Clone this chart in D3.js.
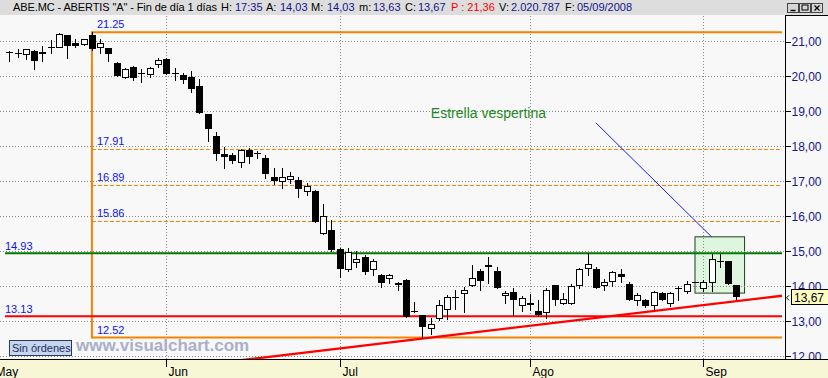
<!DOCTYPE html>
<meta charset="utf-8">
<style>
body{margin:0;background:#f8f8f8;}
svg{display:block;font-family:Arial,"Liberation Sans",sans-serif;}
.grid line{stroke:#8a8a8a;stroke-dasharray:1,2;shape-rendering:crispEdges;}
.wick{stroke:#000;shape-rendering:crispEdges;}
.yaxis text{fill:#16168c;font-size:12px;}
.yaxis line{stroke:#000;shape-rendering:crispEdges;}
.lvl{fill:#0a14ff;font-size:11px;}
</style>
<body>
<div id="chart"></div>
<script src="https://cdn.jsdelivr.net/npm/d3@7"></script>
<script>

// trading days shown (6 May - 5 Sep 2008)
var dates = [
"2008-05-06","2008-05-07","2008-05-08","2008-05-09","2008-05-12","2008-05-13","2008-05-14","2008-05-15","2008-05-16","2008-05-19",
"2008-05-20","2008-05-21","2008-05-22","2008-05-23","2008-05-26","2008-05-27","2008-05-28","2008-05-29","2008-05-30",
"2008-06-02","2008-06-03","2008-06-04","2008-06-05","2008-06-06","2008-06-09","2008-06-10","2008-06-11","2008-06-12","2008-06-13",
"2008-06-16","2008-06-17","2008-06-18","2008-06-19","2008-06-20","2008-06-23","2008-06-24","2008-06-25","2008-06-26","2008-06-27","2008-06-30",
"2008-07-01","2008-07-02","2008-07-03","2008-07-04","2008-07-07","2008-07-08","2008-07-09","2008-07-10","2008-07-11",
"2008-07-14","2008-07-15","2008-07-16","2008-07-17","2008-07-18","2008-07-21","2008-07-22","2008-07-23","2008-07-24","2008-07-25",
"2008-07-28","2008-07-29","2008-07-30","2008-07-31",
"2008-08-01","2008-08-04","2008-08-05","2008-08-06","2008-08-07","2008-08-08","2008-08-11","2008-08-12","2008-08-13","2008-08-14","2008-08-15",
"2008-08-18","2008-08-19","2008-08-20","2008-08-21","2008-08-22","2008-08-25","2008-08-26","2008-08-27","2008-08-28","2008-08-29",
"2008-09-01","2008-09-02","2008-09-03","2008-09-04","2008-09-05"];

var open  = [20.69,20.65,20.62,20.71,20.69,20.82,20.82,21.16,20.93,20.91, 21.16,20.84,20.79,20.38,19.98,20.25,20.08,20.05,20.33,
             20.48,20.09,20.03,19.97,19.71,18.91,18.29,17.77,17.74,17.53, 17.89,17.79,17.66,17.11,17.01,17.04,17.03,16.72,16.71,15.52,15.60,
             15.06,14.48,14.69,14.83,14.49,14.31,14.22,14.09,14.17, 13.27,13.17,12.78,13.07,13.33,13.67,13.79,14.01,14.43,14.60, 14.43,13.73,13.82,13.44,
             13.51,13.29,13.25,14.03,13.51,13.51,14.03,14.51,14.48,14.02,14.14, 14.34,14.06,13.60,13.60,13.45,13.79,13.51,13.93,13.86,14.10,
             13.93,14.10,14.71,14.71,14.03];
var high  = [20.70,20.76,20.76,20.73,20.86,21.03,21.22,21.16,21.05,21.07, 21.25,21.05,20.79,20.40,20.22,20.29,20.19,20.27,20.51,
             20.51,20.24,20.08,20.14,19.91,18.91,18.41,17.98,17.80,17.92, 17.93,17.84,17.74,17.38,17.38,17.24,17.11,16.93,16.74,16.34,15.89,
             15.08,15.09,15.00,14.89,14.77,14.34,14.34,14.12,14.20, 13.54,13.17,13.09,13.59,13.74,13.89,13.97,14.60,14.48,14.82, 14.53,13.86,13.95,13.71,
             13.76,13.60,13.95,14.03,13.79,14.05,14.52,14.93,14.55,14.19,14.43, 14.48,14.10,13.79,13.63,13.86,13.81,13.81,13.98,14.14,14.10,
             14.17,14.91,14.91,14.71,14.03];
var low   = [20.44,20.55,20.48,20.19,20.44,20.67,20.82,20.52,20.84,20.88, 20.75,20.65,20.43,20.01,19.95,19.89,19.84,19.98,20.25,
             20.07,19.89,19.81,19.55,18.93,18.15,17.60,17.36,17.52,17.41, 17.52,17.65,17.09,16.91,16.81,16.93,16.55,16.60,15.81,15.49,14.98,
             14.24,14.41,14.55,14.34,14.31,13.97,14.09,13.89,13.12, 13.26,12.52,12.63,13.03,13.06,13.34,13.24,14.00,13.87,14.08, 13.95,13.52,13.17,13.27,
             13.31,13.14,13.09,13.44,13.48,13.47,13.93,14.31,13.95,13.89,14.00, 14.11,13.58,13.46,13.38,13.33,13.58,13.41,13.60,13.79,14.10,
             13.84,13.84,14.55,14.05,13.63];
var close = [20.69,20.65,20.76,20.44,20.63,20.82,21.20,20.85,20.87,21.07, 20.76,20.93,20.63,20.01,20.19,19.95,20.08,20.22,20.45,
             20.07,20.09,19.89,19.63,18.95,18.48,17.76,17.67,17.58,17.89, 17.68,17.79,17.21,17.01,17.10,17.14,16.78,16.86,15.81,16.00,15.03,
             14.49,14.96,14.77,14.38,14.71,14.07,14.31,14.01,13.12, 13.27,12.81,12.90,13.45,13.68,13.67,13.88,14.22,14.15,14.53, 13.95,13.80,13.60,13.65,
             13.45,13.17,13.89,13.60,13.62,14.00,14.48,14.62,13.95,14.11,14.39, 14.25,13.58,13.73,13.41,13.81,13.60,13.79,13.93,14.05,14.10,
             14.10,14.76,14.67,14.05,13.67];

var priceTicks = [12,13,14,15,16,17,18,19,20,21];
var monthTicks = ["2008-05-02","2008-06-02","2008-07-01","2008-08-01","2008-09-01"];
var monthLabels = ["May","Jun","Jul","Ago","Sep"];

// drawn studies
var fibHigh = ["2008-05-20", 21.25];
var fibLow = 12.52;
var fibLevels = [17.91, 16.89, 15.86];
var resistance = 14.93;
var support = 13.13;
var trendPts = [["2008-07-15", 12.49], ["2008-09-05", 13.56]];
var noteText = "Estrella vespertina";
var noteAt = ["2008-07-25", 18.80];
var noteLine = [["2008-08-13", 18.66], ["2008-09-02", 15.40]];
var boxDates = ["2008-08-29", "2008-09-05"];
var boxPrices = [15.40, 13.79];

var headerTitle = 'ABE.MC - ABERTIS "A" - Fin de día 1 días';
var headerFields = [["H:", "17:35", 221, 235], ["A:", null, 266, 280], ["M:", null, 311, 327], ["m:", null, 359, 373],
                    ["C:", null, 405, 418], ["V:", "2.020.787", 499, 511], ["F:", "05/09/2008", 565, 577]];
var prevClose = "21,36";

var W = 828, H = 378, plotR = 785, plotTop = 16, plotBot = 359;
var n = dates.length;
var fmt = function(v){ return v.toFixed(2).replace(".", ","); };
headerFields[1][1] = fmt(open[n-1]);
headerFields[2][1] = fmt(high[n-1]);
headerFields[3][1] = fmt(low[n-1]);
headerFields[4][1] = fmt(close[n-1]);

var x = d3.scalePoint().domain(dates).range([9.3, 736.3]);
var y = d3.scaleLinear().domain([12, 21]).range([355.7, 41]);
var parse = d3.timeParse("%Y-%m-%d");

// x for a date that may lie before the first shown bar
function xAt(d){
  if (x(d) !== undefined) return x(d);
  var k = d3.timeDay.range(parse(d), parse(dates[0])).filter(function(t){ return t.getDay() % 6 != 0; }).length;
  return x(dates[0]) - k * x.step();
}

var svg = d3.select("#chart").append("svg").attr("width", W).attr("height", H);

svg.append("rect").attr("width", W).attr("height", H).attr("fill", "#f8f8f8");
svg.append("defs").append("clipPath").attr("id", "plotclip")
  .append("rect").attr("x", 0).attr("y", plotTop).attr("width", plotR).attr("height", plotBot - plotTop);

var plot = svg.append("g").attr("clip-path", "url(#plotclip)");

// pattern box
plot.append("rect")
  .attr("x", x(boxDates[0])).attr("y", y(boxPrices[0]))
  .attr("width", x(boxDates[1]) + x.step() - x(boxDates[0]))
  .attr("height", y(boxPrices[1]) - y(boxPrices[0]))
  .attr("fill", "#def6de").attr("stroke", "#1f3f1f");

// grid
var grid = plot.append("g").attr("class", "grid");
grid.selectAll(".h").data(priceTicks).enter().append("line")
  .attr("x1", 0).attr("x2", plotR)
  .attr("y1", function(d){ return Math.round(y(d)) + 0.5; })
  .attr("y2", function(d){ return Math.round(y(d)) + 0.5; });
grid.selectAll(".v").data(monthTicks).enter().append("line")
  .attr("x1", function(d){ return Math.round(xAt(d)) + 0.5; })
  .attr("x2", function(d){ return Math.round(xAt(d)) + 0.5; })
  .attr("y1", plotTop).attr("y2", plotBot);

// fibonacci
var fx = x(fibHigh[0]);
var orange = "#f58300";
plot.append("line").attr("x1", fx).attr("x2", 782).attr("y1", y(fibHigh[1])).attr("y2", y(fibHigh[1]))
  .attr("stroke", orange).attr("stroke-width", 2);
plot.append("line").attr("x1", fx).attr("x2", 782).attr("y1", y(fibLow)).attr("y2", y(fibLow))
  .attr("stroke", orange).attr("stroke-width", 2);
plot.append("line").attr("x1", fx).attr("x2", fx).attr("y1", y(fibHigh[1]) - 1).attr("y2", y(fibLow) + 1)
  .attr("stroke", orange).attr("stroke-width", 2);
plot.selectAll(".fib").data(fibLevels).enter().append("line")
  .attr("x1", fx).attr("x2", 782)
  .attr("y1", function(d){ return Math.round(y(d)) + 0.5; })
  .attr("y2", function(d){ return Math.round(y(d)) + 0.5; })
  .attr("stroke", orange).attr("stroke-dasharray", "4,2");
plot.selectAll(".fibl").data([fibHigh[1], fibLow].concat(fibLevels)).enter().append("text")
  .attr("class", "lvl").attr("x", fx + 5).attr("y", function(d){ return y(d) - 4; })
  .text(function(d){ return d.toFixed(2); });

// support / resistance
plot.append("line").attr("x1", 5).attr("x2", 782).attr("y1", y(resistance)).attr("y2", y(resistance))
  .attr("stroke", "#007a00").attr("stroke-width", 2);
plot.append("line").attr("x1", 5).attr("x2", 782).attr("y1", y(support)).attr("y2", y(support))
  .attr("stroke", "#ff0000").attr("stroke-width", 2);
plot.selectAll(".srl").data([resistance, support]).enter().append("text")
  .attr("class", "lvl").attr("x", 5).attr("y", function(d){ return y(d) - 3.5; })
  .text(function(d){ return d.toFixed(2); });

// trend line
var tx1 = x(trendPts[0][0]), ty1 = y(trendPts[0][1]);
var tx2 = x(trendPts[1][0]), ty2 = y(trendPts[1][1]);
var slope = (ty2 - ty1) / (tx2 - tx1);
plot.append("line").attr("x1", 0).attr("y1", ty1 - tx1 * slope)
  .attr("x2", 782).attr("y2", ty1 + (782 - tx1) * slope)
  .attr("stroke", "#ff0000").attr("stroke-width", 2.4);

// note
plot.append("line")
  .attr("x1", x(noteLine[0][0])).attr("y1", y(noteLine[0][1]))
  .attr("x2", x(noteLine[1][0])).attr("y2", y(noteLine[1][1]))
  .attr("stroke", "#1a1aff").attr("stroke-width", 1);
plot.append("text").attr("x", x(noteAt[0])).attr("y", y(noteAt[1]))
  .attr("text-anchor", "middle").attr("fill", "#1f8a1f").style("font-size", "14px")
  .text(noteText);

// candles
var bars = plot.append("g").selectAll("g").data(d3.range(n)).enter().append("g");
bars.append("line").attr("class", "wick")
  .attr("x1", function(i){ return Math.round(x(dates[i])) + 0.5; })
  .attr("x2", function(i){ return Math.round(x(dates[i])) + 0.5; })
  .attr("y1", function(i){ return Math.round(y(high[i])); })
  .attr("y2", function(i){ return Math.round(y(low[i])) + 1; });
bars.append("rect")
  .attr("shape-rendering", "crispEdges")
  .each(function(i){
    var cx = Math.round(x(dates[i]));
    var t = Math.round(y(Math.max(open[i], close[i]))), b = Math.round(y(Math.min(open[i], close[i])));
    var r = d3.select(this);
    if (close[i] > open[i]) {
      r.attr("x", cx - 2.5).attr("width", 6).attr("y", t + 0.5).attr("height", Math.max(2, b - t))
       .attr("fill", "#fff").attr("stroke", "#000");
    } else {
      r.attr("x", cx - 3).attr("width", 7).attr("y", t).attr("height", Math.max(1, b - t))
       .attr("fill", "#000");
    }
  });

// watermark + orders box
svg.append("rect").attr("x", 9.5).attr("y", 340.5).attr("width", 62).attr("height", 15)
  .attr("fill", "#c6d6ee").attr("stroke", "#2a3a5a");
svg.append("text").attr("x", 12).attr("y", 352).attr("fill", "#1c2c5c").style("font-size", "11px").text("Sin órdenes");
svg.append("text").attr("x", 76).attr("y", 351).attr("fill", "#a9b0c9")
  .style("font-size", "17px").style("font-weight", "bold").text("www.visualchart.com");

// right price panel
svg.append("rect").attr("x", plotR + 0.5).attr("y", 15.5).attr("width", 50).attr("height", plotBot - 15)
  .attr("fill", "#f8f8f8").attr("stroke", "#000");
var yAxis = svg.append("g").attr("class", "yaxis").attr("transform", "translate(" + (plotR + 0.5) + ",0.5)")
  .call(d3.axisRight(y).tickValues(priceTicks).tickSize(5).tickPadding(1).tickFormat(fmt));
yAxis.select(".domain").remove();

// last price tag
var ly = y(close[n-1]);
svg.append("path").attr("d", "M789," + (ly - 2) + "L786.5," + (ly + 0.5) + "L789," + (ly + 3))
  .attr("fill", "none").attr("stroke", "#000");
svg.append("rect").attr("x", 791.5).attr("y", Math.round(ly) - 7.5).attr("width", 40).attr("height", 15)
  .attr("fill", "#ffffc2").attr("stroke", "#000");
svg.append("text").attr("x", 794).attr("y", ly + 4.5).attr("fill", "#000").style("font-size", "12px")
  .text(fmt(close[n-1]));

// date axis strip
svg.append("rect").attr("x", 0).attr("y", plotBot + 1).attr("width", W).attr("height", H - plotBot)
  .attr("fill", "#f7f7d6");
svg.append("line").attr("x1", 0).attr("x2", W).attr("y1", plotBot + 0.5).attr("y2", plotBot + 0.5).attr("stroke", "#000");
var mt = svg.append("g").selectAll("g").data(monthTicks).enter().append("g")
  .attr("transform", function(d){ return "translate(" + (Math.round(xAt(d)) + 0.5) + ",0)"; });
mt.append("line").attr("y1", plotBot).attr("y2", plotBot + 8).attr("stroke", "#000");
mt.append("text").attr("x", 2).attr("y", 376).attr("fill", "#000").style("font-size", "12px")
  .text(function(d, i){ return monthLabels[i]; });

// header
svg.append("rect").attr("width", W).attr("height", 15).attr("fill", "#dddddd");
var hdr = svg.append("g").style("font-size", "11px");
hdr.append("text").attr("x", 13).attr("y", 11).attr("fill", "#000")
  .attr("textLength", 204).attr("lengthAdjust", "spacing").text(headerTitle);
headerFields.forEach(function(f){
  hdr.append("text").attr("x", f[2]).attr("y", 11).attr("fill", "#000").text(f[0]);
  hdr.append("text").attr("x", f[3]).attr("y", 11).attr("fill", "#14148c").text(f[1]);
});
hdr.append("text").attr("x", 451).attr("y", 11).attr("fill", "#ff0000").text("P : " + prevClose);

// window buttons
var btn = svg.append("g").selectAll("g").data(["min", "max", "close"]).enter().append("g")
  .attr("transform", function(d, i){ return "translate(" + (787.5 + i * 12) + ",3.5)"; });
btn.append("rect").attr("width", 11).attr("height", 9).attr("fill", "#d6d6d6").attr("stroke", "#444");
btn.filter(function(d){ return d == "min"; }).append("line")
  .attr("x1", 3).attr("x2", 8).attr("y1", 7).attr("y2", 7).attr("stroke", "#000").attr("stroke-width", 1.5);
btn.filter(function(d){ return d == "max"; }).append("rect")
  .attr("x", 2.5).attr("y", 1.5).attr("width", 6).attr("height", 5).attr("fill", "none").attr("stroke", "#000");
btn.filter(function(d){ return d == "close"; }).append("path")
  .attr("d", "M3,2L8,7M8,2L3,7").attr("stroke", "#000").attr("stroke-width", 1.3);

</script>
</body>
</html>
